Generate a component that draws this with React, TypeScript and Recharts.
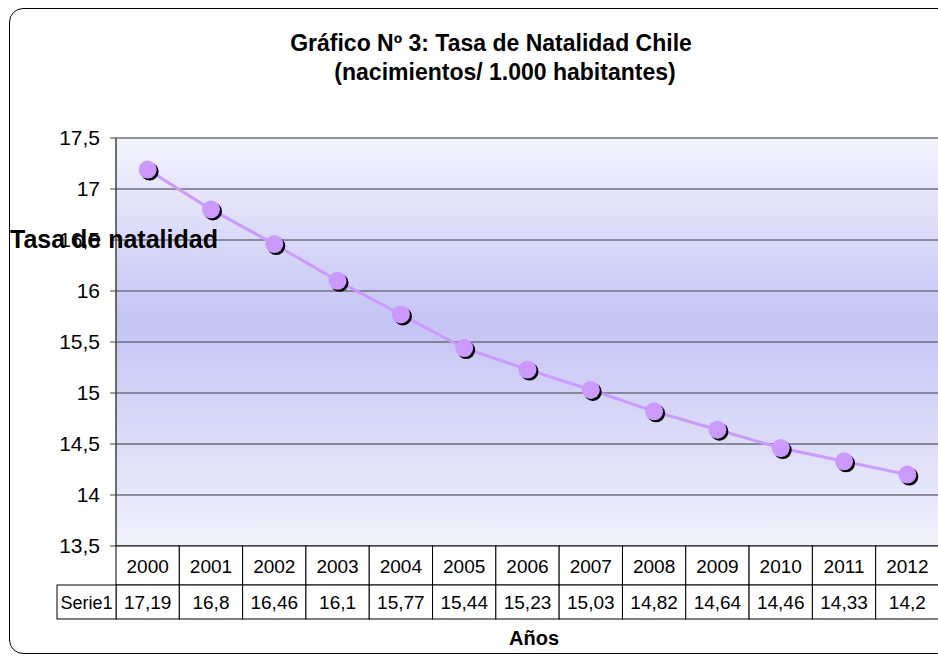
import React from 'react';
import { LineChart, Line, XAxis, YAxis, CartesianGrid } from 'recharts';

const years = ['2000', '2001', '2002', '2003', '2004', '2005', '2006', '2007', '2008', '2009', '2010', '2011', '2012'];
const rates = [17.19, 16.8, 16.46, 16.1, 15.77, 15.44, 15.23, 15.03, 14.82, 14.64, 14.46, 14.33, 14.2];
const yTicks = [13.5, 14, 14.5, 15, 15.5, 16, 16.5, 17, 17.5];
const seriesName = 'Serie1';

const FONT = '"Liberation Sans", Arial, sans-serif';
const CELL_W = 823 / 13;
const HEAD_H = 39;
const ROW_H = 34;
const LABEL_W = 59;

const fmt = (v: number) => String(v).replace('.', ',');

const chartData = years.map((year, i) => ({ year, rate: rates[i] }));

// draws the data table under the plot, one column per category tick
const TableTick = (props: any) => {
  const { x, y, payload, index } = props;
  const left = x - CELL_W / 2;
  return (
    <g>
      <rect x={left} y={y} width={CELL_W} height={HEAD_H} fill="#fff" stroke="#000" strokeWidth={1} />
      <rect x={left} y={y + HEAD_H} width={CELL_W} height={ROW_H} fill="#fff" stroke="#000" strokeWidth={1} />
      <text x={x} y={y + HEAD_H / 2 + 7} textAnchor="middle" fontSize={19} fontFamily={FONT} fill="#000">
        {payload.value}
      </text>
      <text x={x} y={y + HEAD_H + ROW_H / 2 + 7} textAnchor="middle" fontSize={19} fontFamily={FONT} fill="#000">
        {fmt(rates[index])}
      </text>
      {index === 0 && (
        <g>
          <rect x={left - LABEL_W} y={y + HEAD_H} width={LABEL_W} height={ROW_H} fill="#fff" stroke="#000" strokeWidth={1} />
          <text x={left - LABEL_W / 2} y={y + HEAD_H + ROW_H / 2 + 7} textAnchor="middle" fontSize={18} fontFamily={FONT} fill="#000">
            {seriesName}
          </text>
        </g>
      )}
    </g>
  );
};

const ShadowDot = (props: any) => {
  const { cx, cy, index } = props;
  if (cx == null || cy == null) return null;
  return (
    <g key={`dot-${index}`}>
      <circle cx={cx + 2} cy={cy + 2} r={9} fill="#000" />
      <circle cx={cx} cy={cy} r={9} fill="#cc99ff" />
    </g>
  );
};

export default function App() {
  return (
    <div style={{ position: 'absolute', left: 0, top: 0, width: 938, height: 657, overflow: 'hidden', background: '#fff', fontFamily: FONT }}>
      <div style={{ position: 'absolute', left: 9, top: 8, width: 960, height: 644, border: '1.5px solid #000', borderRadius: 14 }} />
      <div style={{ position: 'absolute', left: 0, top: 0 }}>
        <LineChart width={950} height={657} data={chartData} margin={{ top: 138, right: 11, bottom: 0, left: 36 }}>
          <defs>
            <linearGradient id="plotBg" x1="0" y1="0" x2="0" y2="1">
              <stop offset="0%" stopColor="#f3f3fd" />
              <stop offset="45%" stopColor="#c4c4f5" />
              <stop offset="100%" stopColor="#f1f1fb" />
            </linearGradient>
          </defs>
          <CartesianGrid vertical={false} stroke="#6e6e7e" strokeWidth={1.5} fill="url(#plotBg)" />
          <XAxis
            dataKey="year"
            scale="band"
            interval={0}
            height={111}
            axisLine={false}
            tickLine={false}
            tickSize={0}
            tickMargin={0}
            tick={<TableTick />}
          />
          <YAxis
            width={80}
            domain={[13.5, 17.5]}
            ticks={yTicks}
            tickFormatter={fmt}
            axisLine={{ stroke: '#404040', strokeWidth: 1.5 }}
            tickLine={{ stroke: '#404040' }}
            tickSize={6}
            tickMargin={10}
            tick={{ fontSize: 21, fill: '#000', fontFamily: FONT }}
            allowDataOverflow
          />
          <Line
            dataKey="rate"
            type="linear"
            stroke="#cc99ff"
            strokeWidth={3}
            dot={<ShadowDot />}
            activeDot={false}
            isAnimationActive={false}
          />
        </LineChart>
      </div>
      <div style={{ position: 'absolute', left: 0, width: 982, top: 29, textAlign: 'center', fontWeight: 'bold', fontSize: 23, lineHeight: '29px', color: '#000' }}>
        Gráfico Nº 3: Tasa de Natalidad Chile
      </div>
      <div style={{ position: 'absolute', left: 0, width: 1010, top: 58, textAlign: 'center', fontWeight: 'bold', fontSize: 23, lineHeight: '29px', color: '#000' }}>
        (nacimientos/ 1.000 habitantes)
      </div>
      <div style={{ position: 'absolute', left: 10, top: 225, fontWeight: 'bold', fontSize: 25, lineHeight: '28px', color: '#000', whiteSpace: 'nowrap' }}>
        Tasa de natalidad
      </div>
      <div style={{ position: 'absolute', left: 0, width: 1068, top: 626, textAlign: 'center', fontWeight: 'bold', fontSize: 20, lineHeight: '24px', color: '#000' }}>
        Años
      </div>
    </div>
  );
}
